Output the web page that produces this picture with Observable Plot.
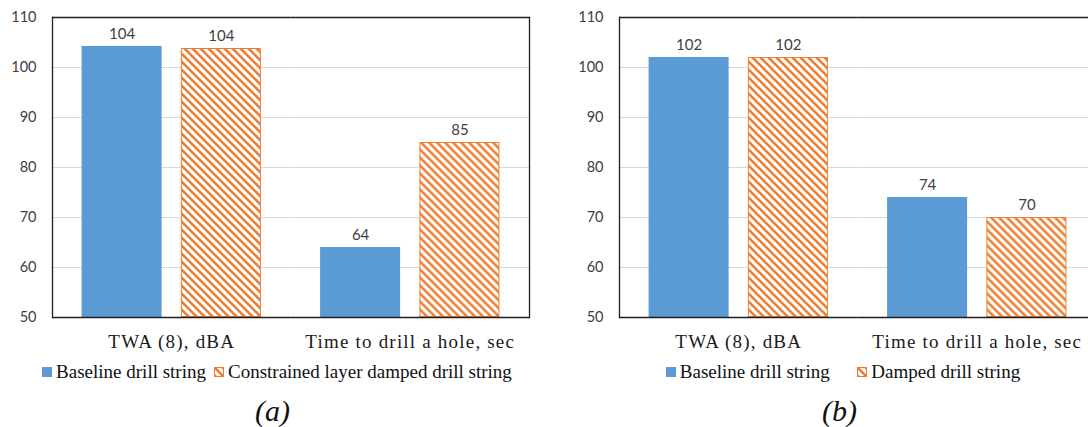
<!DOCTYPE html>
<html>
<head>
<meta charset="utf-8">
<script src="https://cdn.jsdelivr.net/npm/d3@7"></script>
<script src="https://cdn.jsdelivr.net/npm/@observablehq/plot@0.6"></script>
<style>
html, body { margin: 0; padding: 0; width: 1088px; height: 427px; overflow: hidden; background: #fff; }
.panel { position: absolute; top: 0; width: 560px; height: 427px; }
.panel svg.plot { position: absolute; top: 0; left: 0; }
.legend { position: absolute; top: 362px; left: 0; width: 554px; display: flex; justify-content: center;
  font-family: "Liberation Serif", serif; font-size: 19px; line-height: 19px; color: #111; white-space: nowrap; }
.item { display: flex; align-items: center; }
.item svg { margin-right: 4px; }
.caption { position: absolute; top: 396px; left: 0; width: 545px; text-align: center;
  font-family: "Liberation Serif", serif; font-style: italic; font-size: 30px; line-height: 30px; color: #111; }
g[aria-label^="fx-axis"] { letter-spacing: 1.2px; }
</style>
</head>
<body>
<div id="panelA" class="panel" style="left:0px"></div>
<div id="panelB" class="panel" style="left:567px"></div>
<script>
// ---- data ----
const categories = ["TWA (8), dBA", "Time to drill a hole, sec"];
const seriesA = ["Baseline drill string", "Constrained layer damped drill string"];
const baselineA = [104.2, 64];
const dampedA = [103.8, 85];
const seriesB = ["Baseline drill string", "Damped drill string"];
const baselineB = [102, 74];
const dampedB = [102, 70];
const yTicks = [50, 60, 70, 80, 90, 100, 110];
const captions = ["(a)", "(b)"];

const blue = "#5B9BD5";
const orange = "#ED7D31";

function rows(series, base, damp) {
  return categories.flatMap((c, i) => [
    {category: c, series: series[0], value: base[i], kind: "base"},
    {category: c, series: series[1], value: damp[i], kind: "damp"}
  ]);
}

function hatchDefs(id) {
  return () => {
    const defs = d3.create("svg:defs");
    const p = defs.append("pattern").attr("id", id)
      .attr("patternUnits", "userSpaceOnUse").attr("width", 8).attr("height", 8);
    p.append("rect").attr("width", 8).attr("height", 8).attr("fill", "#fff");
    p.append("path").attr("d", "M-2,-2L10,10M-2,6L2,10M6,-2L10,2")
      .attr("stroke", orange).attr("stroke-width", 2.6).attr("fill", "none");
    return defs.node();
  };
}

function chart(series, base, damp, hatchId) {
  const data = rows(series, base, damp);
  const yMin = yTicks[0], yMax = yTicks[yTicks.length - 1];
  const fmt = d3.format(".0f");
  const frameStroke = "#1f1f1f";
  const svg = Plot.plot({
    width: 539, height: 355,
    marginTop: 17, marginBottom: 38, marginLeft: 52, marginRight: 10,
    style: {fontFamily: "Lato, sans-serif", fontSize: "14.5px", background: "transparent", overflow: "visible"},
    fx: {domain: categories, padding: 0, label: null, round: false},
    x: {domain: series, paddingInner: 0.194, paddingOuter: 0.298, axis: null, round: false},
    y: {domain: [yMin, yMax]},
    marks: [
      hatchDefs(hatchId),
      Plot.ruleY(yTicks.slice(1, -1), {stroke: "#d9d9d9", strokeWidth: 1}),
      Plot.barY(data.filter(d => d.kind === "base"), {
        fx: "category", x: "series", y1: () => yMin, y2: "value", fill: blue
      }),
      Plot.barY(data.filter(d => d.kind === "damp"), {
        fx: "category", x: "series", y1: () => yMin, y2: "value",
        fill: `url(#${hatchId})`, stroke: orange, strokeWidth: 1, inset: 0.5
      }),
      Plot.text(data, {
        fx: "category", x: "series", y: "value", text: d => fmt(d.value),
        dy: -8, lineAnchor: "bottom", fill: "#404040", fontSize: 15
      }),
      Plot.ruleY([yMax], {stroke: frameStroke, strokeWidth: 1.3}),
      Plot.ruleY([yMin], {stroke: frameStroke, strokeWidth: 1.3}),
      Plot.frame({anchor: "left", facetAnchor: "left", stroke: frameStroke, strokeWidth: 1.3}),
      Plot.frame({anchor: "right", facetAnchor: "right", stroke: frameStroke, strokeWidth: 1.3}),
      Plot.axisY({ticks: yTicks, tickSize: 0, tickPadding: 16, label: null, color: "#404040", fontSize: 14.5}),
      Plot.axisFx({anchor: "bottom", tickSize: 0, tickPadding: 17.2, label: null,
        fontSize: 19, fontFamily: "Liberation Serif, serif", color: "#1a1a1a"})
    ]
  });
  svg.classList.add("plot");
  return svg;
}

function swatch(kind, id) {
  const s = d3.create("svg").attr("width", 10).attr("height", 10);
  if (kind === "base") {
    s.append("rect").attr("width", 10).attr("height", 10).attr("fill", blue);
  } else {
    const p = s.append("defs").append("pattern").attr("id", id)
      .attr("patternUnits", "userSpaceOnUse").attr("width", 8).attr("height", 8);
    p.append("rect").attr("width", 8).attr("height", 8).attr("fill", "#fff");
    p.append("path").attr("d", "M-2,-2L10,10M-2,6L2,10M6,-2L10,2")
      .attr("stroke", orange).attr("stroke-width", 2.6).attr("fill", "none");
    s.append("rect").attr("x", 0.5).attr("y", 0.5).attr("width", 9).attr("height", 9)
      .attr("fill", `url(#${id})`).attr("stroke", orange).attr("stroke-width", 1);
  }
  return s.node();
}

function panel(el, series, base, damp, hatchId, caption, gap, legendWidth) {
  const root = document.getElementById(el);
  root.appendChild(chart(series, base, damp, hatchId));
  const legend = d3.select(root).append("div").attr("class", "legend").style("width", legendWidth + "px");
  series.forEach((s, i) => {
    const item = legend.append("div").attr("class", "item");
    if (i > 0) item.style("margin-left", gap + "px");
    item.node().appendChild(swatch(i === 0 ? "base" : "damp", hatchId + "sw"));
    item.append("span").text(s);
  });
  d3.select(root).append("div").attr("class", "caption").text(caption);
}

panel("panelA", seriesA, baselineA, dampedA, "hatchA", captions[0], 8, 554);
panel("panelB", seriesB, baselineB, dampedB, "hatchB", captions[1], 27.6, 552);
</script>
</body>
</html>
